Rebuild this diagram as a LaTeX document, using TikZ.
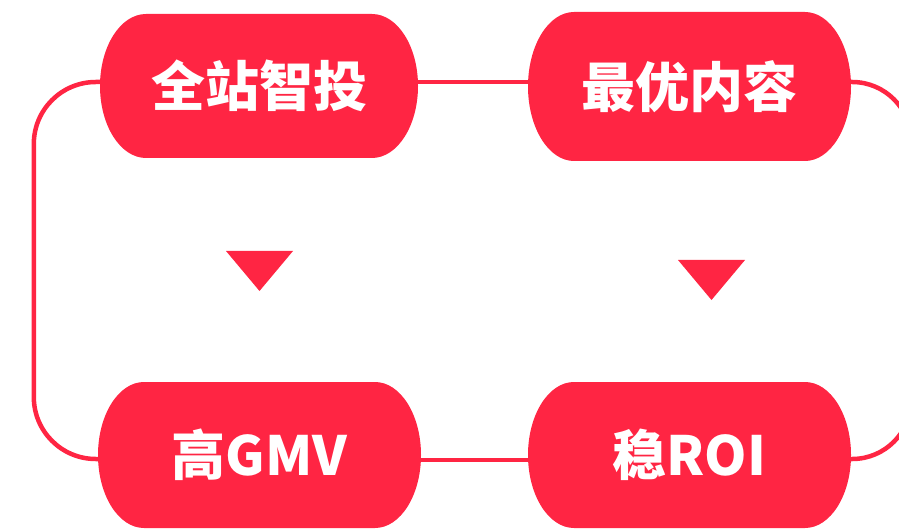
\documentclass[tikz,border=0pt]{standalone}
\usepackage{fontspec}
\newfontfamily\cjk{Noto Sans CJK SC}
\usetikzlibrary{calc}
\definecolor{brandred}{HTML}{FF2543}
\tikzset{
  pill/.style={rectangle, inner sep=0pt, text=white,
    font=\cjk\bfseries\fontsize{54}{54}\selectfont,
    path picture={
      \fill[brandred] let \p1=(path picture bounding box.north east),
        \p2=(path picture bounding box.south west),
        \n1={(\y1-\y2)/2} in
        (\x2+46pt,\y1) -- (\x1-46pt,\y1)
        arc[start angle=90,end angle=-90,x radius=46pt,y radius=\n1]
        -- (\x2+46pt,\y2)
        arc[start angle=270,end angle=90,x radius=46pt,y radius=\n1] -- cycle;
    }},
  link/.style={draw=brandred, line width=4.5pt},
  tri/.style={fill=brandred}
}
\begin{document}
\begin{tikzpicture}[x=1pt,y=-1pt]
\useasboundingbox (0,0) rectangle (899,529);
\clip (0,0) rectangle (899,529);
\node[pill, minimum width=318pt, minimum height=144pt] (n1) at (259,86) {全站智投};
\node[pill, minimum width=323pt, minimum height=149pt] (n2) at (689.5,86.5) {最优内容};
\node[pill, minimum width=323pt, minimum height=146pt] (n3) at (259.5,455) {高GMV};
\node[pill, minimum width=323pt, minimum height=146pt] (n4) at (689.5,455) {稳ROI};
\draw[link] ([yshift=4pt]n1.east) -- ([yshift=4pt]n1.east -| n2.west);
\draw[link] ([yshift=-5pt]n3.east) -- ([yshift=-5pt]n3.east -| n4.west);
\draw[link, rounded corners=62pt] ([yshift=4pt]n1.west) -- ++(-66,0) |- ([yshift=-4pt]n3.west);
\draw[link, rounded corners=59pt] ([yshift=4.5pt]n2.east) -- ++(60,0) |- ([yshift=-4pt]n4.east);
\fill[tri] (226,251) -- (293,251) -- (259.5,291) -- cycle;
\fill[tri] (678,260) -- (745,260) -- (711.5,300) -- cycle;
\end{tikzpicture}
\end{document}
